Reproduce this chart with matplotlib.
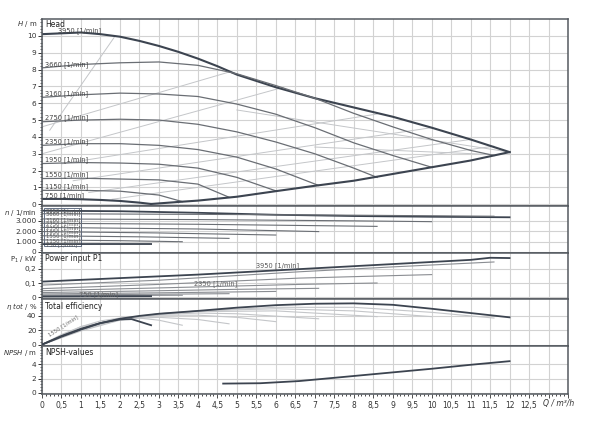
import numpy as np
import matplotlib.pyplot as plt
from matplotlib.ticker import MultipleLocator, FixedLocator, FuncFormatter
from matplotlib.patches import Rectangle

# speed settings [1/min], order used by every list below
speeds = [3950, 3660, 3160, 2750, 2350, 1950, 1550, 1150, 750]

# head curves H [m] over Q [m3/h]
head_q = [
    [0, 0.5, 1, 1.5, 2, 2.5, 3, 3.5, 4, 4.5, 5, 6, 7, 8, 9, 10, 11, 12],
    [0, 1, 2, 3, 4, 5, 6, 7, 8, 9, 10, 11, 11.6],
    [0, 1, 2, 3, 4, 5, 6, 7, 8, 9, 10],
    [0, 1, 2, 3, 4, 5, 6, 7, 8, 8.6],
    [0, 1, 2, 3, 4, 5, 6, 7.1],
    [0, 1, 2, 3, 4, 5, 6],
    [0, 1, 2, 3, 4, 4.8],
    [0, 1, 2, 3, 3.6],
    [0, 0.5, 1, 1.5, 2, 2.5, 2.8],
]
head_h = [
    [10.1, 10.15, 10.2, 10.1, 9.95, 9.7, 9.4, 9.05, 8.65, 8.2, 7.7, 6.95, 6.3, 5.75, 5.2, 4.55, 3.85, 3.1],
    [8.1, 8.3, 8.4, 8.45, 8.25, 7.75, 7.05, 6.3, 5.4, 4.6, 3.85, 3.2, 2.9],
    [6.35, 6.5, 6.6, 6.55, 6.4, 5.95, 5.35, 4.55, 3.65, 2.9, 2.2],
    [4.9, 5.0, 5.05, 5.0, 4.75, 4.3, 3.7, 3.0, 2.15, 1.6],
    [3.5, 3.6, 3.6, 3.5, 3.25, 2.8, 2.1, 1.12],
    [2.42, 2.48, 2.45, 2.38, 2.15, 1.6, 0.8],
    [1.53, 1.55, 1.5, 1.45, 1.2, 0.42],
    [0.83, 0.83, 0.78, 0.55, 0.16],
    [0.32, 0.32, 0.3, 0.26, 0.2, 0.1, 0.02],
]
# lower / right operating limit
limit_q = [2.8, 3.5, 4, 5, 6, 7, 8, 9, 10, 11, 12]
limit_h = [0.02, 0.14, 0.22, 0.45, 0.78, 1.1, 1.4, 1.8, 2.2, 2.6, 3.1]

# thin auxiliary lines in the head field
aux_q = [[0.2, 1.85], [0.0, 4.8], [0.0, 6.2], [0.5, 8.6], [0.8, 10.0], [1.2, 11.0], [1.8, 11.6], [5.0, 12.0], [7.0, 11.6]]
aux_h = [[4.4, 9.9], [4.6, 7.85], [3.0, 6.95], [2.4, 5.36], [1.4, 4.55], [0.7, 3.85], [0.3, 3.45], [5.6, 3.1], [3.4, 2.95]]

# speed n [1/min] over Q
n_q = [
    [0, 2, 4, 6, 8, 10, 12],
    [0, 4, 8, 11.6],
    [0, 4, 8, 10],
    [0, 4, 8.6],
    [0, 4, 7.1],
    [0, 3, 6],
    [0, 2.5, 4.8],
    [0, 2, 3.6],
    [0, 1.5, 2.8],
]
n_val = [
    [3950, 3900, 3750, 3560, 3440, 3370, 3320],
    [3660, 3600, 3520, 3420],
    [3160, 3100, 2980, 2900],
    [2750, 2650, 2450],
    [2350, 2200, 1950],
    [1950, 1820, 1620],
    [1550, 1450, 1300],
    [1150, 1080, 980],
    [750, 760, 760],
]

# power input P1 [kW] over Q
p_q = [
    [0, 2, 4, 6, 8, 10, 11, 11.5, 12],
    [0, 3, 6.6, 9, 11.6],
    [0, 3, 6.6, 10],
    [0, 3, 6.6, 8.6],
    [0, 3, 5, 7.1],
    [0, 3, 6],
    [0, 2.5, 4.8],
    [0, 2, 3.6],
    [0, 1.5, 2.8],
]
p_val = [
    [0.11, 0.135, 0.16, 0.19, 0.22, 0.25, 0.265, 0.28, 0.278],
    [0.085, 0.12, 0.18, 0.215, 0.25],
    [0.06, 0.09, 0.135, 0.16],
    [0.045, 0.065, 0.09, 0.1],
    [0.032, 0.045, 0.055, 0.062],
    [0.022, 0.03, 0.04],
    [0.014, 0.019, 0.024],
    [0.008, 0.011, 0.013],
    [0.004, 0.005, 0.006],
]

# total efficiency [%] over Q
eta_q = [
    [0, 0.5, 1, 1.5, 2, 2.5, 3, 4, 5, 6, 7, 8, 9, 10, 11, 12],
    [0, 1, 2, 3, 4, 6, 8, 10, 11.6],
    [0, 1, 2, 3, 4, 6, 8, 10],
    [0, 1, 2, 3, 4, 6, 8.6],
    [0, 1, 2, 3, 4, 5, 7.1],
    [0, 1, 2, 3, 4, 5, 6],
    [0, 1, 2, 3, 4, 4.8],
    [0, 0.5, 1, 1.5, 2, 2.5, 3, 3.6],
    [0, 0.5, 1, 1.5, 2, 2.3, 2.8],
]
eta_val = [
    [0, 11, 21, 30, 36, 40, 43, 47, 51.5, 55, 57, 57.5, 55.5, 50, 44, 38],
    [0, 19, 34, 42, 47, 52, 52, 45, 37],
    [0, 20, 35, 43, 47, 50, 47, 39],
    [0, 21, 36, 43, 46, 47, 39],
    [0, 22, 36, 42, 44, 43, 36],
    [0, 23, 36, 41, 41, 38, 32],
    [0, 25, 36, 38, 35, 29],
    [0, 14, 25, 33, 37, 37, 34, 27],
    [0, 12, 22, 30, 35, 35.5, 27],
]

# NPSH [m] over Q
npsh_q = [4.65, 5.6, 6.6, 8, 9, 10, 11, 12]
npsh_val = [1.3, 1.35, 1.65, 2.35, 2.85, 3.35, 3.9, 4.4]

dark = '#3c4450'
mid = '#6a6e74'
light = '#c4c6c9'
gridc = '#d2d2d2'

fig = plt.figure(figsize=(6.0, 4.26), dpi=100)
L, W = 42 / 600, 526 / 600
tops = [19, 206, 253, 299, 346, 394]
axes = []
for i in range(5):
    b = 1 - tops[i + 1] / 426
    h = (tops[i + 1] - tops[i]) / 426
    ax = fig.add_axes([L, b, W, h], sharex=axes[0] if axes else None)
    axes.append(ax)
axH, axN, axP, axE, axS = axes


def comma(v, p):
    return ('%g' % v).replace('.', ',')


for ax in axes:
    ax.set_xlim(0, 13.5)
    ax.xaxis.set_major_locator(MultipleLocator(0.5))
    ax.grid(True, which='major', color=gridc, lw=0.8)
    ax.set_axisbelow(True)
    for s in ax.spines.values():
        s.set_color('#555a60')
        s.set_linewidth(1.1)
    ax.tick_params(axis='y', which='major', direction='out', length=3, width=0.7,
                   labelsize=5.3, colors='#333', pad=1)
    ax.tick_params(axis='y', which='minor', direction='out', length=1.6, width=0.5, colors='#333')
    ax.tick_params(axis='x', which='both', length=0, labelbottom=False)

axS.xaxis.set_minor_locator(MultipleLocator(0.1))
axS.tick_params(axis='x', which='major', length=3, width=0.6, labelbottom=True,
                labelsize=5.5, colors='#333', pad=2)
axS.tick_params(axis='x', which='minor', length=1.6, width=0.5)
axS.xaxis.set_major_formatter(FuncFormatter(lambda v, p: comma(v, p) if v <= 12.5 else ''))

# ---- head panel
axH.set_ylim(-0.1, 11)
axH.yaxis.set_major_locator(FixedLocator(range(0, 11)))
axH.yaxis.set_minor_locator(MultipleLocator(0.2))
axH.yaxis.set_major_formatter(FuncFormatter(comma))
for q, h in zip(aux_q, aux_h):
    axH.plot(q, h, color=light, lw=0.7)
for i, n in enumerate(speeds):
    edge = i == 0 or i == len(speeds) - 1
    axH.plot(head_q[i], head_h[i], color=dark if edge else mid,
             lw=1.5 if edge else 0.9)
    lx = 0.4 if i == 0 else 0.08
    axH.text(lx, head_h[i][0] + 0.12, '%d [1/min]' % n, fontsize=4.8, color='#444')
axH.plot(limit_q, limit_h, color=dark, lw=1.5)
axH.text(0.08, 10.55, 'Head', fontsize=5.5, color='#222')

# ---- speed panel
axN.set_ylim(-100, 4400)
axN.yaxis.set_major_locator(FixedLocator([0, 1000, 2000, 3000]))
axN.yaxis.set_minor_locator(MultipleLocator(200))
axN.yaxis.set_major_formatter(FuncFormatter(lambda v, p: ('{:,.0f}'.format(v)).replace(',', '.')))
for i, n in enumerate(speeds):
    edge = i == 0 or i == len(speeds) - 1
    axN.plot(n_q[i], n_val[i], color=dark if edge else mid, lw=1.3 if edge else 0.8)
axN.add_patch(Rectangle((0.05, 600), 0.95, 3600, fill=False, ec='#4a5870', lw=0.6))
for i, n in enumerate(speeds):
    axN.text(0.1, n_val[i][0] - 50, '%d [1/min]' % n, fontsize=3.8, color='#555', va='center')

# ---- power panel
axP.set_ylim(-0.014, 0.314)
axP.yaxis.set_major_locator(FixedLocator([0, 0.1, 0.2]))
axP.yaxis.set_minor_locator(MultipleLocator(0.02))
axP.yaxis.set_major_formatter(FuncFormatter(comma))
for i, n in enumerate(speeds):
    edge = i == 0 or i == len(speeds) - 1
    axP.plot(p_q[i], p_val[i], color=dark if edge else '#8a8d92', lw=1.3 if edge else 0.8)
axP.text(0.08, 0.255, 'Power input P1', fontsize=5.5, color='#222')
axP.text(5.5, 0.21, '3950 [1/min]', fontsize=4.8, color='#555')
axP.text(3.9, 0.082, '2350 [1/min]', fontsize=4.8, color='#666')
axP.text(0.95, 0.006, '750 [1/min]', fontsize=4.8, color='#666')

# ---- efficiency panel
axE.set_ylim(-2, 63.6)
axE.yaxis.set_major_locator(FixedLocator([0, 20, 40]))
axE.yaxis.set_minor_locator(MultipleLocator(4))
for i, n in enumerate(speeds):
    edge = i == 0 or i == len(speeds) - 1
    axE.plot(eta_q[i], eta_val[i], color=dark if edge else light,
             lw=1.3 if edge else 0.8, zorder=3 if edge else 2)
axE.text(0.08, 50, 'Total efficiency', fontsize=5.5, color='#222')
axE.text(0.15, 11, '1550 [1/min]', fontsize=3.8, color='#666', rotation=33)

# ---- NPSH panel
axS.set_ylim(-0.14, 6.5)
axS.yaxis.set_major_locator(FixedLocator([0, 2, 4]))
axS.yaxis.set_minor_locator(MultipleLocator(0.4))
axS.plot(npsh_q, npsh_val, color=dark, lw=1.3)
axS.text(0.08, 5.2, 'NPSH-values', fontsize=5.5, color='#222')
axS.text(13.25, -0.9, 'Q / m³/h', fontsize=5.5, color='#333', ha='center', va='top',
         style='italic')

# axis names at the left, just below the top edge of each panel
names = [(r'$H$ / m', 24), (r'$n$ / 1/min', 213), (r'P$_1$ / kW', 260),
         (r'$\eta$ $tot$ / %', 306), (r'$NPSH$ / m', 353)]
for t, y in names:
    fig.text(37 / 600, 1 - y / 426, t, fontsize=5.0, color='#333', ha='right', va='center')

fig.savefig('out.png', dpi=100)
